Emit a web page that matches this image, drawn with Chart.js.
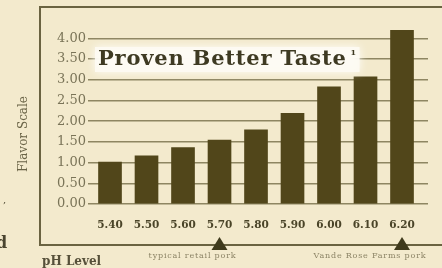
<!DOCTYPE html>
<html>
<head>
<meta charset="utf-8">
<script src="https://cdn.jsdelivr.net/npm/chart.js@4"></script>
<style>
  html, body { margin: 0; padding: 0; background: #f3eacd; }
  #wrap { width: 442px; height: 268px; position: relative; }
  canvas { display: block; }
</style>
</head>
<body>
<div id="wrap"><canvas id="c" width="442" height="268"></canvas></div>
<script>
// ---- data ----
const phLevels = [5.40, 5.50, 5.60, 5.70, 5.80, 5.90, 6.00, 6.10, 6.20];
const flavorScores = [1.01, 1.16, 1.36, 1.54, 1.79, 2.19, 2.83, 3.07, 4.20];
const yTicks = [0, 0.5, 1, 1.5, 2, 2.5, 3, 3.5, 4];
const markerPh = [5.70, 6.20];
const markerLabels = ["typical retail pork", "Vande Rose Farms pork"];
const chartTitle = "Proven Better Taste";
const titleNote = "1";
const yTitle = "Flavor Scale";
const xTitle = "pH Level";

const ink = '#3e3a22';
const barColor = '#51461a';

const decor = {
  id: 'decor',
  beforeDraw(chart) {
    const ctx = chart.ctx;
    ctx.save();
    ctx.strokeStyle = '#6a6341';
    ctx.lineWidth = 2;
    ctx.strokeRect(40, 7, 420, 238);
    ctx.restore();
  },
  afterDatasetsDraw(chart) {
    const ctx = chart.ctx;
    const xs = chart.scales.x, ys = chart.scales.y;
    ctx.save();
    // title with soft white glow
    ctx.font = 'bold 21px "DejaVu Serif"';
    ctx.letterSpacing = '0.8px';
    const w = ctx.measureText(chartTitle).width;
    const tx = 98, ty = ys.getPixelForValue(3.5);
    ctx.shadowColor = 'rgba(255,255,255,1)';
    ctx.shadowBlur = 8;
    ctx.fillStyle = 'rgba(253,251,243,0.9)';
    ctx.fillRect(tx - 3, ty - 12, w + 16, 25);
    ctx.shadowBlur = 0;
    ctx.fillStyle = ink;
    ctx.textBaseline = 'middle';
    ctx.fillText(chartTitle, tx, ty + 1);
    ctx.letterSpacing = '0px';
    ctx.font = 'bold 8px "DejaVu Serif"';
    ctx.fillText(titleNote, tx + w + 4, ty - 6);

    // y title
    ctx.save();
    ctx.translate(24, 134);
    ctx.rotate(-Math.PI / 2);
    ctx.font = '12px "DejaVu Serif"';
    ctx.fillStyle = '#6a6447';
    ctx.textAlign = 'center';
    ctx.fillText(yTitle, 0, 0);
    ctx.restore();

    // x title
    ctx.font = 'bold 12px "DejaVu Serif"';
    ctx.fillStyle = '#56503a';
    ctx.textAlign = 'left';
    ctx.fillText(xTitle, 42, 262);

    // markers
    ctx.fillStyle = '#3f3a1c';
    markerPh.forEach(v => {
      const px = xs.getPixelForValue(v);
      ctx.beginPath();
      ctx.moveTo(px, 237);
      ctx.lineTo(px + 8, 250);
      ctx.lineTo(px - 8, 250);
      ctx.closePath();
      ctx.fill();
    });
    ctx.font = '8px "DejaVu Serif"';
    ctx.letterSpacing = '0.8px';
    ctx.fillStyle = '#8c8466';
    ctx.textAlign = 'center';
    ctx.fillText(markerLabels[0], xs.getPixelForValue(markerPh[0]) - 27, 256);
    ctx.fillText(markerLabels[1], xs.getPixelForValue(markerPh[1]) - 32, 256);
    ctx.letterSpacing = '0px';

    // cut-off fragments from the left edge
    ctx.font = 'bold 16px "DejaVu Serif"';
    ctx.fillStyle = '#4a4530';
    ctx.textAlign = 'left';
    ctx.fillText('d', -4, 244);
    ctx.font = '10px "DejaVu Serif"';
    ctx.fillText(',', 3, 200);
    ctx.restore();
  }
};

new Chart(document.getElementById('c'), {
  type: 'bar',
  data: {
    datasets: [{
      data: phLevels.map((p, i) => ({ x: p, y: flavorScores[i] })),
      backgroundColor: barColor,
      borderWidth: 0,
      barThickness: 23
    }]
  },
  options: {
    responsive: false,
    animation: false,
    events: [],
    layout: { padding: { left: 0, right: 14, top: 30, bottom: 0 } },
    plugins: { legend: { display: false }, tooltip: { enabled: false } },
    scales: {
      x: {
        type: 'linear',
        offset: false,
        min: 5.3397,
        max: 6.2712,
        grid: { display: false, drawTicks: false, offset: false },
        border: { display: false },
        afterBuildTicks: s => { s.ticks = phLevels.map(v => ({ value: v })); },
        afterFit: s => { s.height = 64; },
        ticks: {
          padding: 15,
          autoSkip: false,
          maxRotation: 0,
          color: '#4a4428',
          font: { family: '"DejaVu Serif"', size: 10.5, weight: 'bold' },
          callback: v => Number(v).toFixed(2)
        }
      },
      y: {
        min: 0,
        max: 4.2,
        afterBuildTicks: s => { s.ticks = yTicks.map(v => ({ value: v })); },
        afterFit: s => { s.width = 88; },
        grid: { color: '#8e8662', lineWidth: 1.5, drawTicks: false },
        border: { display: false },
        ticks: {
          padding: 2,
          color: '#7a7458',
          font: { family: '"DejaVu Serif"', size: 13 },
          callback: v => Number(v).toFixed(2)
        }
      }
    }
  },
  plugins: [decor]
});
</script>
</body>
</html>
